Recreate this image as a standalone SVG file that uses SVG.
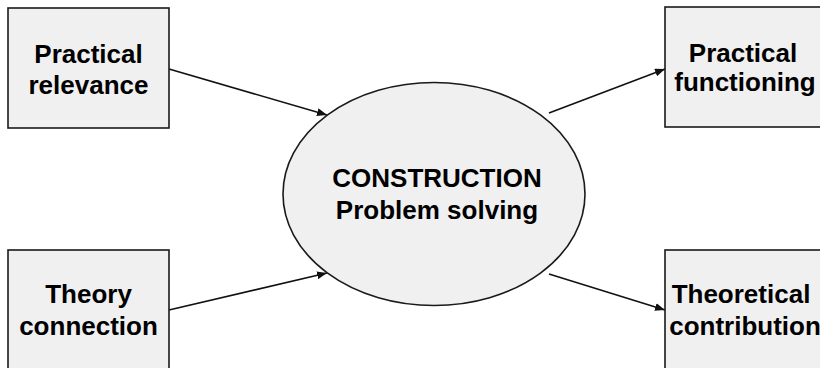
<svg xmlns="http://www.w3.org/2000/svg" width="820" height="368" viewBox="0 0 820 368">
<defs>
<style>
.box{fill:#f0f0f0;stroke:#1a1a1a;stroke-width:1.6}
.t{font-family:"Liberation Sans",Arial,sans-serif;font-weight:bold;font-size:26px;fill:#000;text-anchor:middle}
.c{stroke:#111;stroke-width:1.6;fill:none;marker-end:url(#ah)}
</style>
<marker id="ah" viewBox="0 0 10 8" refX="10" refY="4" markerWidth="10" markerHeight="8" markerUnits="userSpaceOnUse" orient="auto">
<path d="M0,0 L10,4 L0,8 Z" fill="#111"/>
</marker>
</defs>
<rect width="820" height="368" fill="#fff"/>
<g id="connectors">
<line class="c" x1="169" y1="69" x2="327" y2="115"/>
<line class="c" x1="169" y1="310" x2="327" y2="273"/>
<line class="c" x1="549" y1="113" x2="665" y2="69"/>
<line class="c" x1="549" y1="274" x2="665" y2="310"/>
</g>
<g id="practical-relevance">
<rect class="box" x="8" y="8" width="161" height="120"/>
<text class="t" x="88.5" y="63">Practical</text>
<text class="t" x="88.5" y="94">relevance</text>
</g>
<g id="theory-connection">
<rect class="box" x="8" y="250" width="161" height="122"/>
<text class="t" x="88.5" y="303">Theory</text>
<text class="t" x="88.5" y="335">connection</text>
</g>
<g id="construction">
<ellipse class="box" cx="434" cy="194" rx="151" ry="111.5"/>
<text class="t" x="437" y="187">CONSTRUCTION</text>
<text class="t" x="437" y="219">Problem solving</text>
</g>
<g id="practical-functioning">
<rect class="box" x="665" y="7" width="161" height="120"/>
<text class="t" x="743" y="62">Practical</text>
<text class="t" x="745" y="91">functioning</text>
</g>
<g id="theoretical-contribution">
<rect class="box" x="665" y="250" width="161" height="122"/>
<text class="t" x="741" y="303">Theoretical</text>
<text class="t" x="745" y="335">contribution</text>
</g>
</svg>
